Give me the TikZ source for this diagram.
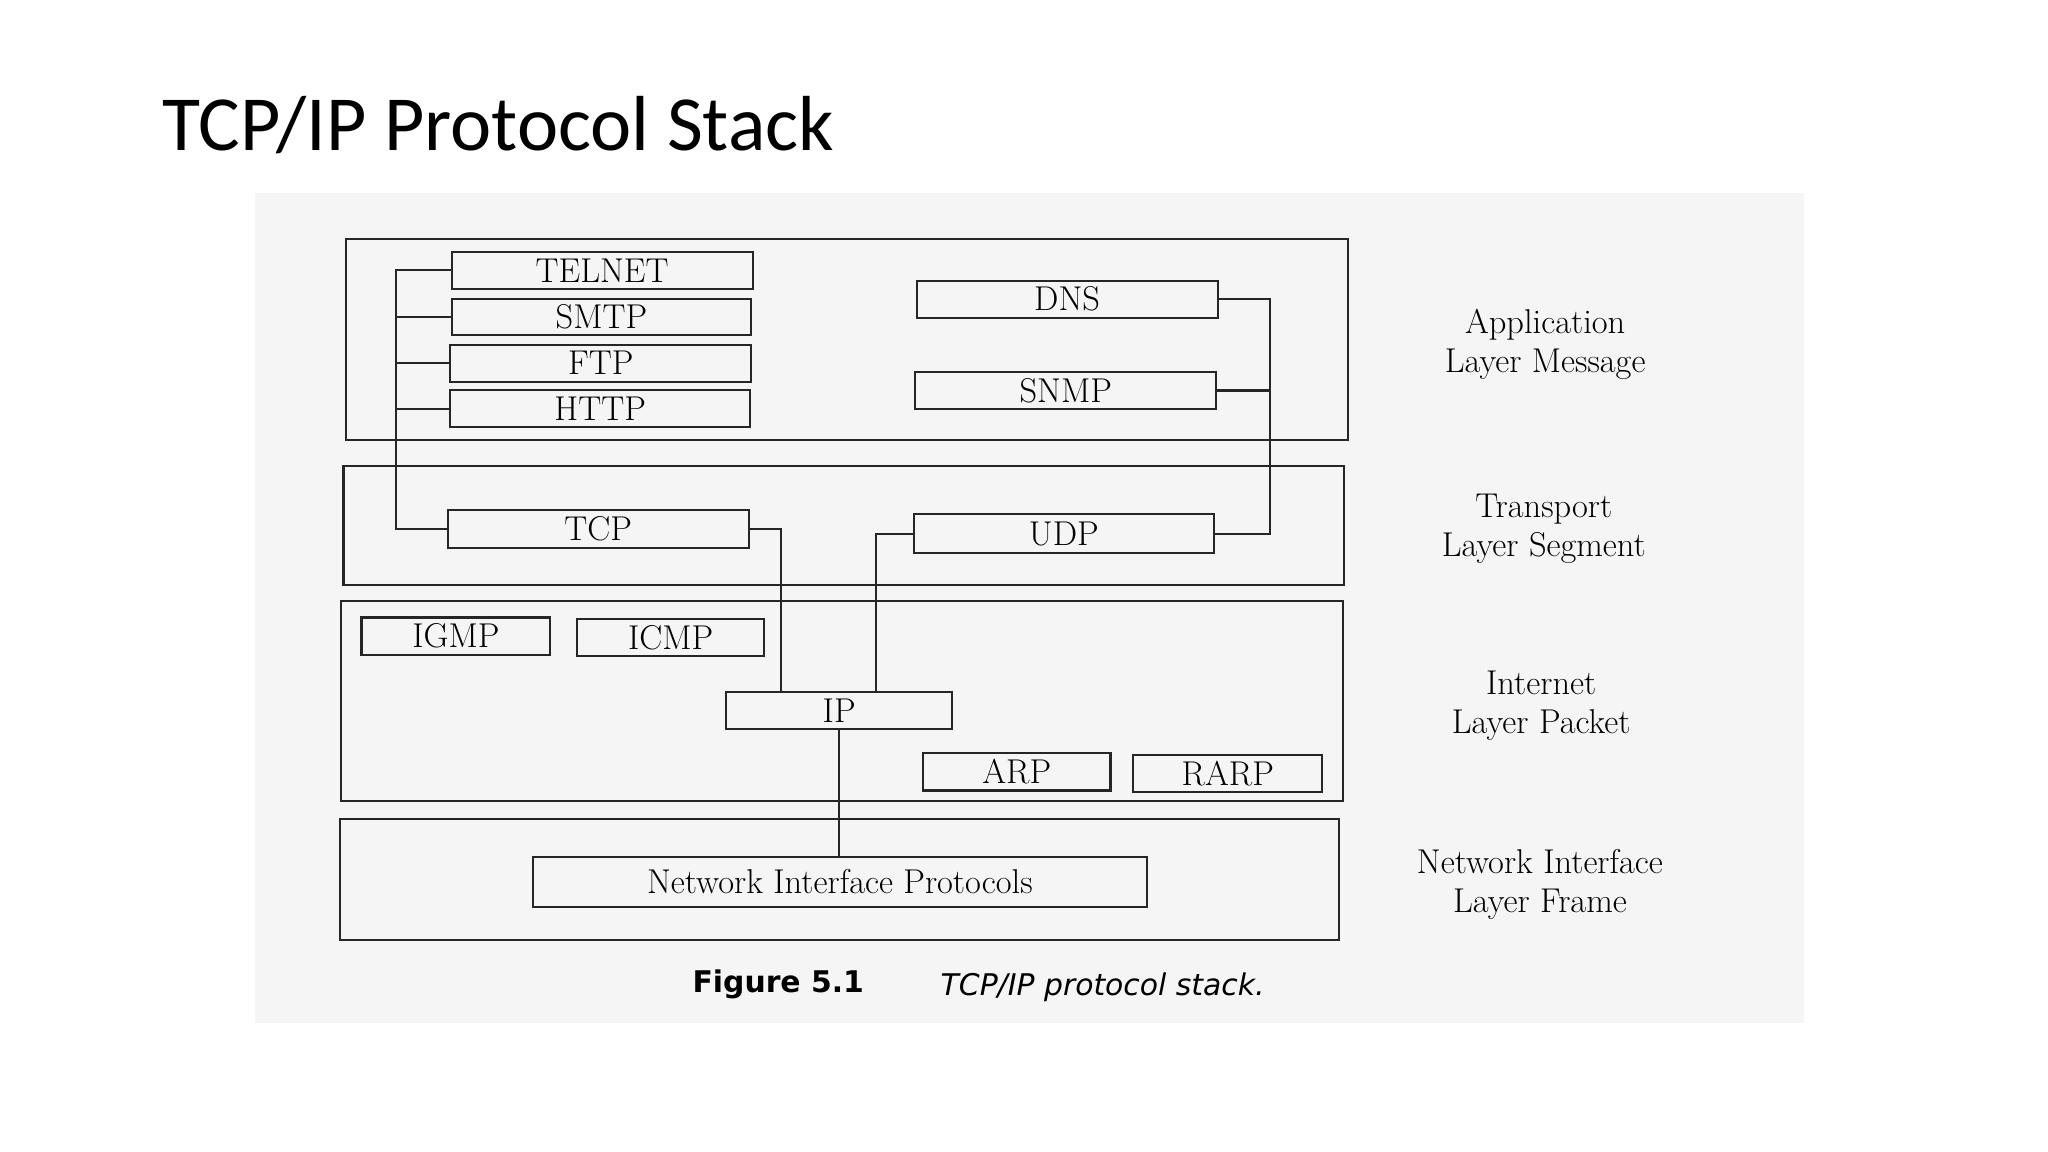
\documentclass[tikz,border=0pt]{standalone}
\usepackage{fontspec}
\setmainfont{Latin Modern Roman}
\newfontfamily\titlef{Carlito}
\newfontfamily\capf{DejaVu Sans}
\begin{document}
\begin{tikzpicture}[x=0.2mm,y=-0.2mm,
  lay/.style={draw=black!85,line width=0.9pt},
  bx/.style={draw=black!85,line width=0.9pt,inner sep=0pt,font=\fontsize{15}{15}\selectfont},
  ln/.style={draw=black!85,line width=0.9pt},
  lbl/.style={align=center,font=\fontsize{15}{17}\selectfont}]
\useasboundingbox (0,0) rectangle (1568,882);
\fill[white] (0,0) rectangle (1568,882);
\fill[black!4] (195,148) rectangle (1381,783);
\node[anchor=base west,font=\titlef\fontsize{34}{34}\selectfont] (title) at (118,115) {TCP/IP Protocol Stack};
% layers
\draw[lay] (265,183) rectangle (1032,337);
\draw[lay] (263,357) rectangle (1029,448);
\draw[lay] (261,460) rectangle (1028,613);
\draw[lay] (260,627) rectangle (1025,720);
% boxes
\newcommand{\pbox}[6]{\node[bx,minimum width=#4*0.2mm-0.9pt,minimum height=#5*0.2mm-0.9pt] (#1) at ({#2+#4/2},{#3+#5/2}) {#6};}
\pbox{telnet}{345}{192}{232}{30}{TELNET}
\pbox{smtp}{345}{228}{231}{29}{SMTP}
\pbox{ftp}{344}{263}{232}{30}{FTP}
\pbox{http}{344}{298}{231}{30}{HTTP}
\pbox{dns}{701}{214}{232}{30}{DNS}
\pbox{snmp}{700}{284}{232}{30}{SNMP}
\pbox{tcp}{342}{390}{232}{30}{TCP}
\pbox{udp}{699}{393}{231}{31}{UDP}
\pbox{igmp}{276}{472}{146}{30}{IGMP}
\pbox{icmp}{441}{473}{145}{30}{ICMP}
\pbox{ip}{555}{529}{175}{30}{IP}
\pbox{arp}{706}{576}{145}{30}{ARP}
\pbox{rarp}{867}{577}{146}{30}{RARP}
\pbox{nip}{407}{655}{472}{40}{Network Interface Protocols}
% connectors
\coordinate (lb) at (303,0);
\coordinate (rb) at (972,0);
\draw[ln] (telnet.west) -| (lb |- tcp.west) -- (tcp.west);
\foreach \n in {smtp,ftp,http} \draw[ln] (\n.west) -- (lb |- \n.west);
\draw[ln] (dns.east) -| (rb |- udp.east) -- (udp.east);
\draw[ln] (snmp.east) -- (rb |- snmp.east);
\draw[ln] (tcp.east) -| ([xshift=43*0.2mm]ip.north west);
\draw[ln] (udp.west) -| ([xshift=116*0.2mm]ip.north west);
\draw[ln] (ip.south) -- (nip.north -| ip.south);
% labels
\node[lbl] (l1) at (1183,264) {Application\\Layer Message};
\node[lbl] (l2) at (1182,405) {Transport\\Layer Segment};
\node[lbl] (l3) at (1180,540) {Internet\\Layer Packet};
\node[lbl] (l4) at (1179,677) {Network Interface\\Layer Frame};
\node[anchor=base west,font=\capf\bfseries\fontsize{13}{13}\selectfont] (c1) at (524,760) {Figure 5.1};
\node[anchor=base west,font=\capf\itshape\fontsize{13}{13}\selectfont] (c2) at (714,762) {TCP/IP protocol stack.};
\end{tikzpicture}
\end{document}
